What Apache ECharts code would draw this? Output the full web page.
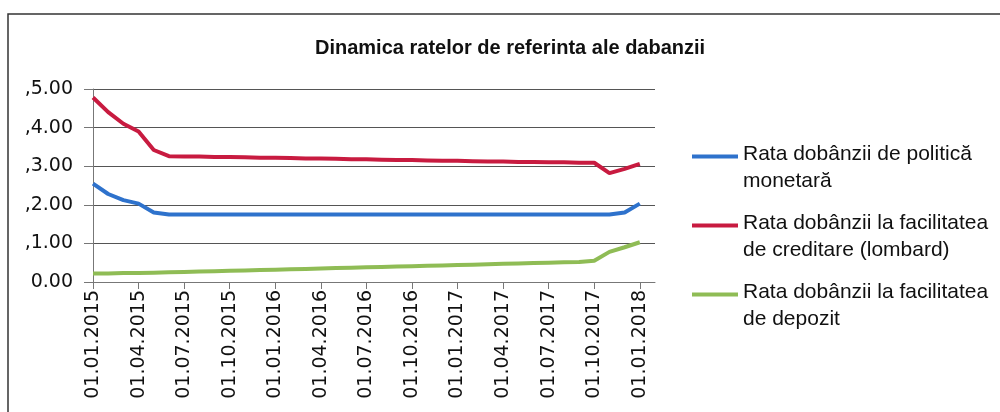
<!DOCTYPE html>
<html lang="ro">
<head>
  <meta charset="UTF-8">
  <title>Dinamica ratelor de referinta</title>
  <script src="https://cdn.jsdelivr.net/npm/echarts@6/dist/echarts.min.js"></script>
  <style>
    html, body { margin: 0; padding: 0; background: #fff; }
    #chart { width: 1000px; height: 412px; }
  </style>
</head>
<body>
<div id="chart"></div>
<script type="text/javascript">
  // monthly dates, a label every third month
  var dates = ['01.01.2015', '01.02.2015', '01.03.2015', '01.04.2015', '01.05.2015', '01.06.2015',
    '01.07.2015', '01.08.2015', '01.09.2015', '01.10.2015', '01.11.2015', '01.12.2015',
    '01.01.2016', '01.02.2016', '01.03.2016', '01.04.2016', '01.05.2016', '01.06.2016',
    '01.07.2016', '01.08.2016', '01.09.2016', '01.10.2016', '01.11.2016', '01.12.2016',
    '01.01.2017', '01.02.2017', '01.03.2017', '01.04.2017', '01.05.2017', '01.06.2017',
    '01.07.2017', '01.08.2017', '01.09.2017', '01.10.2017', '01.11.2017', '01.12.2017',
    '01.01.2018', '01.02.2018'];

  var politica = [2.55, 2.28, 2.12, 2.03, 1.80, 1.75, 1.75, 1.75, 1.75, 1.75, 1.75, 1.75,
    1.75, 1.75, 1.75, 1.75, 1.75, 1.75, 1.75, 1.75, 1.75, 1.75, 1.75, 1.75,
    1.75, 1.75, 1.75, 1.75, 1.75, 1.75, 1.75, 1.75, 1.75, 1.75, 1.75, 1.80,
    2.03, null];

  var lombard = [4.78, 4.40, 4.10, 3.90, 3.42, 3.26, 3.25, 3.25, 3.24, 3.24, 3.23, 3.22,
    3.22, 3.21, 3.20, 3.20, 3.19, 3.18, 3.18, 3.17, 3.16, 3.16, 3.15, 3.14,
    3.14, 3.13, 3.12, 3.12, 3.11, 3.11, 3.10, 3.10, 3.09, 3.09, 2.82, 2.93,
    3.06, null];

  var depozit = [0.22, 0.22, 0.23, 0.23, 0.24, 0.25, 0.26, 0.27, 0.28, 0.29, 0.30, 0.31,
    0.32, 0.33, 0.34, 0.35, 0.36, 0.37, 0.38, 0.39, 0.40, 0.41, 0.42, 0.43,
    0.44, 0.45, 0.46, 0.47, 0.48, 0.49, 0.50, 0.51, 0.52, 0.55, 0.78, 0.90,
    1.03, null];

  var numeSerii = ['Rata dobânzii de politică\nmonetară',
    'Rata dobânzii la facilitatea\nde creditare (lombard)',
    'Rata dobânzii la facilitatea\nde depozit'];

  var culori = ['#2e72cc', '#c81b40', '#8fbc55'];

  // bar drawn at the top of the icon box so it sits on the first text line
  var iconLinie = 'path://M0,0H46V4H0Z M0,26.9H0.1V27H0Z';

  var myChart = echarts.init(document.getElementById('chart'));

  function arataLuna(index) {
    return index % 3 === 0 && index <= 36;
  }

  var option = {
    animation: false,
    color: culori,
    title: {
      text: 'Dinamica ratelor de referinta ale dabanzii',
      left: 310,
      top: 33,
      textStyle: {
        fontFamily: 'Liberation Sans',
        fontSize: 20,
        fontWeight: 'bold',
        color: '#111'
      }
    },
    legend: {
      orient: 'vertical',
      left: 687,
      top: 136,
      itemWidth: 46,
      itemHeight: 27,
      itemGap: 15,
      symbolKeepAspect: false,
      textStyle: {
        fontFamily: 'Liberation Sans',
        fontSize: 21,
        lineHeight: 27,
        color: '#111'
      },
      data: [
        { name: numeSerii[0], icon: iconLinie },
        { name: numeSerii[1], icon: iconLinie },
        { name: numeSerii[2], icon: iconLinie }
      ]
    },
    grid: {
      left: 93,
      right: 345,
      top: 89,
      bottom: 130
    },
    xAxis: {
      type: 'category',
      boundaryGap: false,
      data: dates,
      axisLine: { lineStyle: { color: '#777', width: 1 } },
      axisTick: {
        interval: arataLuna,
        length: 7,
        lineStyle: { color: '#777' }
      },
      axisLabel: {
        interval: arataLuna,
        rotate: 90,
        margin: 8,
        fontFamily: 'DejaVu Sans',
        fontSize: 19,
        color: '#111'
      }
    },
    yAxis: {
      type: 'value',
      min: 0,
      max: 5,
      interval: 1,
      axisLine: { show: true, lineStyle: { color: '#777', width: 1 } },
      axisTick: { show: true, inside: false, length: 9, lineStyle: { color: '#777' } },
      splitLine: { lineStyle: { color: '#555', width: 1 } },
      axisLabel: {
        margin: 20,
        fontFamily: 'DejaVu Sans',
        fontSize: 19,
        color: '#111',
        formatter: function (v) {
          return v === 0 ? '0.00' : ',' + v.toFixed(2);
        }
      }
    },
    graphic: [{
      type: 'rect',
      silent: true,
      shape: { x: 8, y: 14, width: 1100, height: 500 },
      style: { fill: null, stroke: '#333', lineWidth: 1.5 }
    }],
    series: [
      {
        name: numeSerii[0],
        type: 'line',
        data: politica,
        symbol: 'none',
        lineStyle: { width: 4, color: culori[0] }
      },
      {
        name: numeSerii[1],
        type: 'line',
        data: lombard,
        symbol: 'none',
        lineStyle: { width: 4, color: culori[1] }
      },
      {
        name: numeSerii[2],
        type: 'line',
        data: depozit,
        symbol: 'none',
        lineStyle: { width: 4, color: culori[2] }
      }
    ]
  };

  myChart.setOption(option);
</script>
</body>
</html>
